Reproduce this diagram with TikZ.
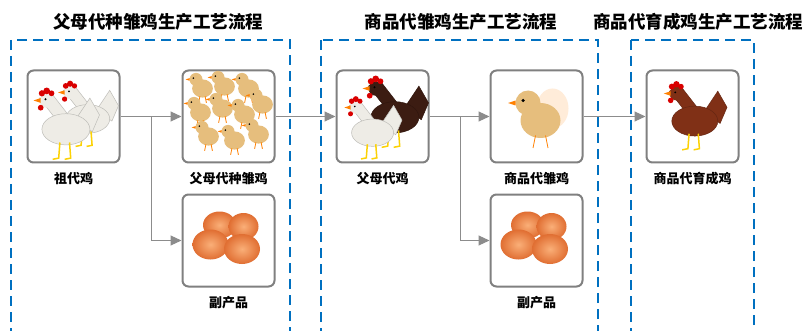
\documentclass[tikz,border=0pt]{standalone}
\usepackage{fontspec}
\newfontfamily\cjk{Noto Sans CJK SC}
\usetikzlibrary{positioning}
\usetikzlibrary{arrows.meta}
\definecolor{frameblue}{RGB}{0,112,192}
\definecolor{boxgray}{RGB}{128,128,128}
\definecolor{linegray}{RGB}{140,140,140}
\definecolor{chicktan}{RGB}{230,190,125}
\definecolor{henbrown}{RGB}{128,48,22}
\definecolor{hendark}{RGB}{60,28,18}
\definecolor{henwhite}{RGB}{238,236,230}
\definecolor{eggorange}{RGB}{224,110,50}
\definecolor{eggpale}{RGB}{250,175,120}

\begin{document}
\begin{tikzpicture}[x=1pt,y=-1pt,
	stagebox/.style={draw=frameblue,line width=2.2pt,dash pattern=on 10pt off 6pt},
	headline/.style={font=\cjk\bfseries\fontsize{17.5}{20}\selectfont},
	photo/.style={draw=boxgray,line width=2pt,rounded corners=6pt,fill=white,minimum width=92pt,minimum height=92pt},
	caption/.style={font=\cjk\bfseries\fontsize{13}{15}\selectfont,below=5pt of #1},
	conn/.style={draw=linegray,line width=1.1pt,-{Triangle[length=11pt,width=10pt]}},
	egg/.style={inner color=eggpale,outer color=eggorange},
	pics/hen/.style={code={
		\path[fill=#1,draw=#1!80!black,line width=0.5pt] (10,-4) -- (22,-22) -- (30,-8) -- (24,6) -- cycle
			(-6,-4) -- (-20,-22) -- (-10,-26) -- (4,-8) -- cycle;
		\path[fill=#1,draw=#1!80!black,line width=0.5pt] (2,4) ellipse (20 and 13);
		\path[fill=#1] (-14,-20) circle (6);
		\fill[red!85!black] (-18,-26) circle (2.6) (-14,-28) circle (2.8) (-10,-26) circle (2.4) (-19,-14) circle (2.4);
		\fill[orange] (-19,-22) -- (-25,-20) -- (-19,-18) -- cycle;
		\fill[black] (-15,-21) circle (0.9);
		\draw[yellow!70!orange,line width=1.5pt] (-3,15) -- (-4,28) -- (-9,29) (5,15) -- (6,28) -- (1,29);
	}},
	pics/chick/.style={code={
		\fill[#1] (0,0) ellipse (8 and 7) (-5,-7) circle (5);
		\fill[orange] (-10,-8) -- (-13,-7) -- (-10,-6) -- cycle;
		\fill (-7,-8) circle (0.7);
		\draw[orange,line width=0.8pt] (-2,6) -- (-3,11) (2,6) -- (3,11);
	}},
	pics/eggs/.style={code={
		\shade[egg] (-6,-9) ellipse (11 and 9);
		\shade[egg] (10,-8) ellipse (10 and 9);
		\shade[egg] (-12,4) ellipse (12 and 10);
		\shade[egg] (9,7) ellipse (12 and 10);
	}}]
	\useasboundingbox (0,0) rectangle (805,331);
	\clip (0,0) rectangle (805,331);

	\node[headline] (t1) at (158,22) {父母代种雏鸡生产工艺流程};
	\node[headline] (t2) at (461,22) {商品代雏鸡生产工艺流程};
	\node[headline] (t3) at (698,22) {商品代育成鸡生产工艺流程};

	\draw[stagebox] (11,40) rectangle (290,345);
	\draw[stagebox] (321,40) rectangle (598,345);
	\draw[stagebox] (631,40) rectangle (754,345);

	\node[photo] (zudai) at (73.5,116.5) {};
	\node[photo,right=61pt of zudai] (fumuchu) {};
	\node[photo,below=30pt of fumuchu] (fuchan1) {};
	\node[photo,right=60pt of fumuchu] (fumu) {};
	\node[photo,right=60pt of fumu] (shangchu) {};
	\node[photo,below=30pt of shangchu] (fuchan2) {};
	\node[photo,right=62pt of shangchu] (yucheng) {};

	\node[caption=zudai] (l1) {祖代鸡};
	\node[caption=fumuchu] (l2) {父母代种雏鸡};
	\node[caption=fuchan1] (l3) {副产品};
	\node[caption=fumu] (l4) {父母代鸡};
	\node[caption=shangchu] (l5) {商品代雏鸡};
	\node[caption=fuchan2] (l6) {副产品};
	\node[caption=yucheng] (l7) {商品代育成鸡};

	\pic[scale=1.1] at ([shift={(12,-2)}]zudai.center) {hen=henwhite};
	\pic[scale=1.2] at ([shift={(-10,8)}]zudai.center) {hen=henwhite};
	\foreach \cx/\cy in {-26/-28,-4/-30,20/-28,34/-12,-28/-4,-6/-8,16/-2,-20/20,6/24,30/18}
		\pic[scale=1.3] at ([shift={(\cx,\cy)}]fumuchu.center) {chick=chicktan};
	\pic[scale=1.5] at ([shift={(0,-2)}]fuchan1.center) {eggs};
	\pic[scale=1.2] at ([shift={(10,-4)}]fumu.center) {hen=hendark};
	\pic[scale=1.05] at ([shift={(-12,12)}]fumu.center) {hen=henwhite};
	\fill[orange!15!white] ([shift={(16,-8)}]shangchu.center) ellipse (16 and 20);
	\pic[scale=2.5] at ([shift={(4,4)}]shangchu.center) {chick=chicktan};
	\pic[scale=1.5] at ([shift={(0,-2)}]fuchan2.center) {eggs};
	\pic[scale=1.15] at (yucheng.center) {hen=henbrown};

	\coordinate (fork1) at ([xshift=31pt]zudai.east);
	\coordinate (fork2) at ([xshift=31pt]fumu.east);
	\draw[conn] (zudai.east) -- (fumuchu.west);
	\draw[conn] (fork1) |- (fuchan1.west);
	\draw[conn] (fumuchu.east) -- (fumu.west);
	\draw[conn] (fumu.east) -- (shangchu.west);
	\draw[conn] (fork2) |- (fuchan2.west);
	\draw[conn] (shangchu.east) -- (yucheng.west);
\end{tikzpicture}
\end{document}
